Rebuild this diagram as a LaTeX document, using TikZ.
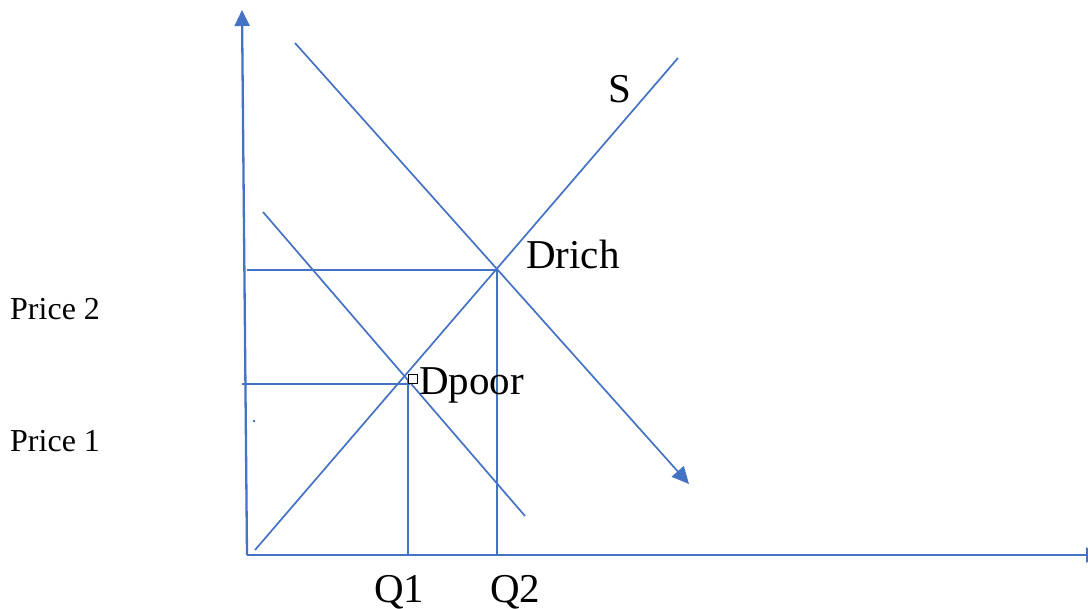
\documentclass[tikz,border=0pt]{standalone}
\usepackage{fontspec}
\setmainfont{Liberation Serif}
\usetikzlibrary{arrows.meta}
\definecolor{lineblue}{RGB}{68,114,196}
\begin{document}
\begin{tikzpicture}[x=1pt,y=-1pt,
  curve/.style={draw=lineblue,line width=1.7pt},
  axis/.style={draw=lineblue,line width=2.3pt,-{Triangle[length=16pt,width=15pt]}},
  arrowcurve/.style={curve,-{Triangle[length=17pt,width=16pt]}},
  big/.style={font=\fontsize{41}{41}\selectfont,inner sep=0pt,anchor=base west},
  small/.style={font=\fontsize{32}{32}\selectfont,inner sep=0pt,anchor=base west}]
\useasboundingbox (0,0) rectangle (1088,609);
% coordinates
\coordinate (O) at (247,555);
\coordinate (ytop) at (242,10);
\coordinate (xend) at (1102,555);
\coordinate (s1) at (255,550);
\coordinate (s2) at (678,58);
\coordinate (dr1) at (295,43);
\coordinate (dr2) at (689,484);
\coordinate (dp1) at (263,212);
\coordinate (dp2) at (525,516);
\coordinate (p2l) at (247,270);
\coordinate (e2) at (497,270);
\coordinate (q2b) at (497,555);
\coordinate (p1l) at (242,384);
\coordinate (p1r) at (410,384);
\coordinate (q1t) at (408,379);
\coordinate (q1b) at (408,555);
% axes
\draw[axis] (O) -- (ytop);
\draw[axis] (O) -- (xend);
% curves
\draw[curve] (s1) -- (s2);
\draw[arrowcurve] (dr1) -- (dr2);
\draw[curve] (dp1) -- (dp2);
% guide lines
\draw[curve] (p2l) -- (e2);
\draw[curve] (e2) -- (q2b);
\draw[curve] (p1l) -- (p1r);
\draw[curve] (q1t) -- (q1b);
% small marker
\node[draw=black,line width=0.7pt,minimum size=9pt,inner sep=0pt,fill=white] (mk) at (413,379) {};
\node[fill=lineblue,inner sep=0pt,minimum size=2pt] (dot) at (254,421) {};
% labels
\node[big] (lS) at (608,103) {S};
\node[big] (lDrich) at (526,269) {Drich};
\node[big] (lDpoor) at (419,395) {Dpoor};
\node[big] (lQ1) at (374,602) {Q1};
\node[big] (lQ2) at (490,602) {Q2};
\node[small] (lP2) at (10,320) {Price 2};
\node[small] (lP1) at (10,452) {Price 1};
\end{tikzpicture}
\end{document}
